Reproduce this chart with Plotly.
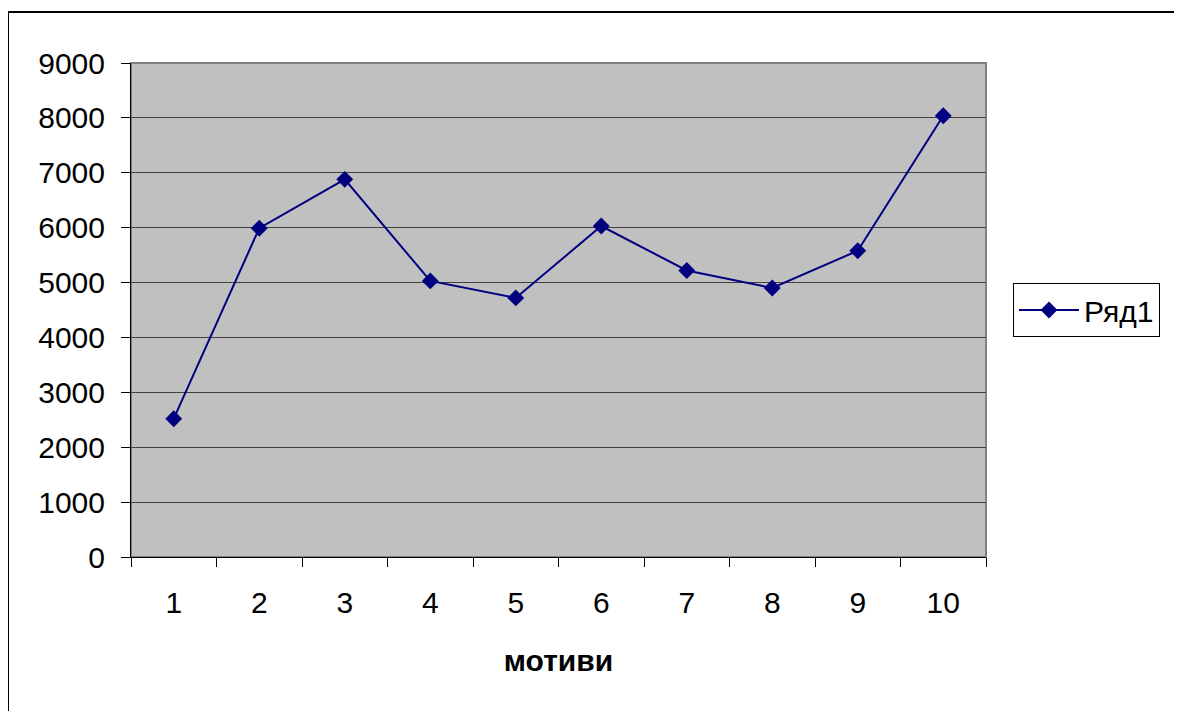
import plotly.graph_objects as go

categories = ["1", "2", "3", "4", "5", "6", "7", "8", "9", "10"]
values = [2520, 5990, 6880, 5030, 4720, 6030, 5220, 4900, 5580, 8040]
series_name = "Ряд1"
x_title = "мотиви"
y_ticks = [0, 1000, 2000, 3000, 4000, 5000, 6000, 7000, 8000, 9000]

# page body has an 8px margin; the figure starts at (8, 8)
OFF = 8
W, H = 1182, 711
FW, FH = W - OFF, H - OFF
L, T, R, B = 131, 63, 986, 557
pw, ph = R - L, B - T

fig = go.Figure()
fig.add_trace(go.Scatter(
    x=categories, y=values, name=series_name, mode="lines+markers",
    line=dict(color="#000080", width=2),
    marker=dict(symbol="diamond", size=13, color="#000080"),
))

FAM = "Liberation Sans, Arial, sans-serif"
font = dict(family=FAM, size=30, color="black")

fx0 = (8 - L) / pw
fy1 = (B - 12) / ph

fig.update_layout(
    width=FW, height=FH,
    margin=dict(l=L - OFF, r=FW - (R - OFF), t=T - OFF, b=FH - (B - OFF),
                autoexpand=False),
    paper_bgcolor="white", plot_bgcolor="#C0C0C0",
    font=font,
    showlegend=True,
    legend=dict(
        x=(1013 - L) / pw, y=(B - 283) / ph, xanchor="left", yanchor="top",
        bordercolor="black", borderwidth=1, bgcolor="white",
        font=dict(family=FAM, size=30),
        itemwidth=60,
    ),
    xaxis=dict(
        type="category", range=[-0.5, len(categories) - 0.5], autorange=False,
        tickson="boundaries", ticks="outside", ticklen=9,
        tickcolor="black", showline=True, linecolor="black", linewidth=1,
        showgrid=False, zeroline=False, mirror=False,
        title=dict(text="<b>" + x_title + "</b>", font=dict(size=30), standoff=31),
        ticklabelstandoff=19,
    ),
    yaxis=dict(
        range=[0, 9000], tickvals=y_ticks, ticks="outside", ticklen=9,
        tickcolor="black", showline=True, linecolor="black", linewidth=1,
        showgrid=True, gridcolor="#404040", gridwidth=1, zeroline=False,
        ticklabelstandoff=10,
    ),
    shapes=[
        dict(type="rect", xref="paper", yref="paper", x0=0, x1=1, y0=0, y1=1,
             line=dict(color="#808080", width=2), layer="below"),
        dict(type="line", xref="paper", yref="paper",
             x0=fx0, x1=1.3, y0=fy1, y1=fy1,
             line=dict(color="black", width=2)),
        dict(type="line", xref="paper", yref="paper",
             x0=fx0, x1=fx0, y0=-0.5, y1=fy1,
             line=dict(color="black", width=2)),
    ],
)

fig.write_html("out.html", config={"displayModeBar": False})
